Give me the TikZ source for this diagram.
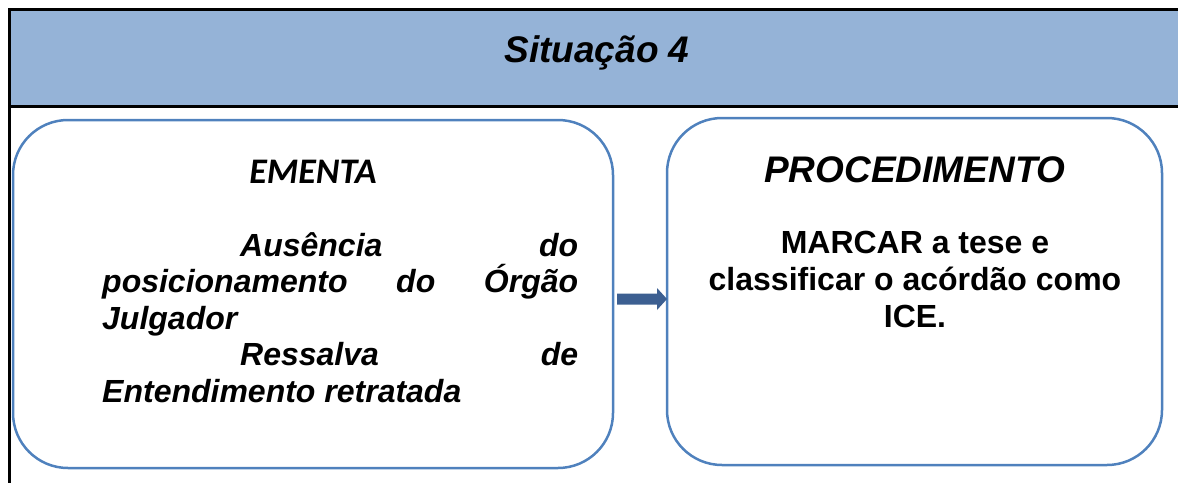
\documentclass[tikz,border=0pt]{standalone}
\usepackage{fontspec}
\setmainfont{Liberation Sans}
\newfontfamily\calib{Carlito}
\usetikzlibrary{calc}
\definecolor{hdr}{HTML}{95B3D7}
\definecolor{boxblue}{HTML}{4F81BD}
\definecolor{arrcol}{HTML}{3C5F91}
\begin{document}
\begin{tikzpicture}[x=1pt,y=-1pt,
  roundbox/.style={draw=boxblue, line width=2.5pt, rounded corners=55pt, inner sep=0pt},
  bigtitle/.style={font=\fontsize{37}{40}\selectfont\bfseries\itshape, inner sep=0pt},
  bodytext/.style={font=\fontsize{32}{36}\selectfont\bfseries, inner sep=0pt}]
\useasboundingbox (0,0) rectangle (1178,483);
% header band and frame
\fill[hdr] (9,9) rectangle (1178,106);
\draw[line width=3pt] (1178,9) -- (9,9) -- (9,483);
\draw[line width=3pt] (9,106) -- (1178,106);
\node[bigtitle, anchor=base] (title) at (597,62) {Situação 4};
% boxes
\node[roundbox, minimum width=600pt, minimum height=348pt] (L) at (313,294) {};
\node[roundbox, minimum width=495pt, minimum height=347pt] (R) at (914.5,291.5) {};
% left content
\node[anchor=base, inner sep=0pt, font=\calib\fontsize{36}{38}\selectfont\bfseries\itshape] (em) at (313,183) {EMENTA};
\node[bodytext, anchor=base west] (lt) at (102,256) {\itshape\parbox[t]{476pt}{\fontsize{32}{36.5}\selectfont\bfseries\itshape
\hspace*{138pt}Ausência\hfill do\\
posicionamento\hfill do\hfill Órgão\\
Julgador\\
\hspace*{138pt}Ressalva\hfill de\\
Entendimento retratada}};
% right content
\node[bigtitle, anchor=base] (pr) at (915,182) {PROCEDIMENTO};
\node[bodytext, anchor=base] (rt) at (915,253) {\parbox[t]{470pt}{\centering\fontsize{32}{37}\selectfont\bfseries
MARCAR a tese e\\
classificar o acórdão como\\
ICE.}};
% arrow
\coordinate (a1) at (617,299);
\coordinate (a2) at (667,299);
\fill[arrcol] ($(a1)+(0,-5.5)$) -- ($(a2)+(-10,-5.5)$) -- ($(a2)+(-10,-11)$) -- (a2)
  -- ($(a2)+(-10,11)$) -- ($(a2)+(-10,5.5)$) -- ($(a1)+(0,5.5)$) -- cycle;
\end{tikzpicture}
\end{document}
